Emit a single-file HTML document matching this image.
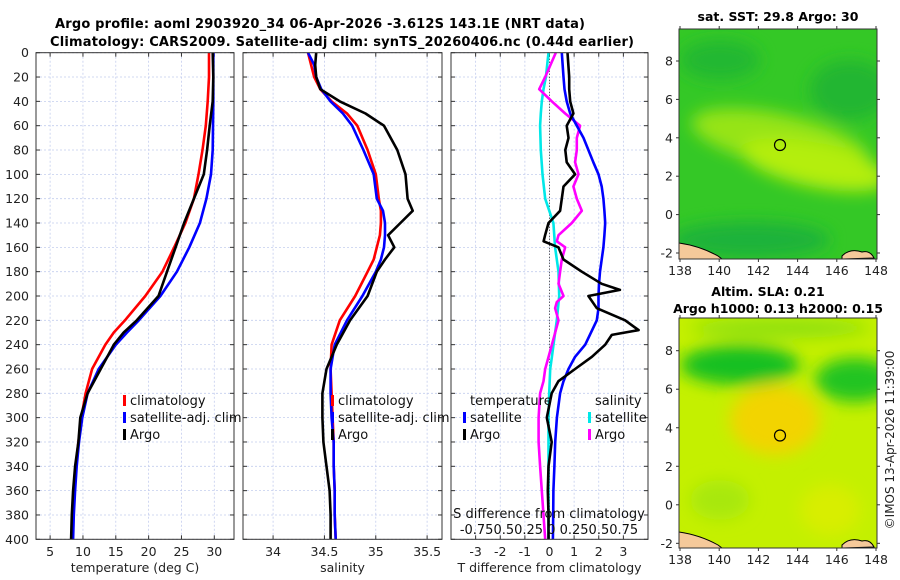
<!DOCTYPE html>
<html><head><meta charset="utf-8"><style>
html,body{margin:0;padding:0;background:#fff;}
svg{display:block;font-family:"DejaVu Sans","Liberation Sans",sans-serif;}
</style></head><body>
<svg id="fig" width="900" height="580" viewBox="0 0 900 580" xmlns="http://www.w3.org/2000/svg">
<defs>
<clipPath id="c1"><rect x="36" y="53" width="198" height="486"/></clipPath>
<clipPath id="c2"><rect x="243" y="53" width="199" height="486"/></clipPath>
<clipPath id="c3"><rect x="451" y="53" width="197" height="486"/></clipPath>
<clipPath id="m1"><rect x="679" y="29" width="198" height="230"/></clipPath>
<clipPath id="m2"><rect x="679" y="318" width="198" height="230"/></clipPath>
<filter id="bl" x="-50%" y="-50%" width="200%" height="200%"><feGaussianBlur stdDeviation="8"/></filter>
</defs>
<text x="320" y="28" font-size="13" font-weight="bold" text-anchor="middle" textLength="530">Argo profile: aoml 2903920_34 06-Apr-2026 -3.612S 143.1E (NRT data)</text>
<text x="342" y="46" font-size="13" font-weight="bold" text-anchor="middle" textLength="584">Climatology: CARS2009. Satellite-adj clim: synTS_20260406.nc (0.44d earlier)</text>

<g id="maps">
<g clip-path="url(#m1)">
<rect x="679" y="29" width="198" height="230" fill="#34c826"/>
<g filter="url(#bl)">
<ellipse cx="720" cy="60" rx="40" ry="20" fill="#24b830"/>
<ellipse cx="850" cy="90" rx="40" ry="30" fill="#22b632"/>
<ellipse cx="780" cy="140" rx="90" ry="26" fill="#96e412" transform="rotate(12 780 140)"/>
<ellipse cx="815" cy="165" rx="75" ry="22" fill="#b4ee08" transform="rotate(12 815 165)"/>
<ellipse cx="750" cy="240" rx="80" ry="18" fill="#1db23a"/>
</g>
<path d="M679 243 Q700 246 718 256 L722 259 L679 259 Z" fill="#f5c99a" stroke="#000" stroke-width="1"/>
<path d="M842 256 Q850 248 862 252 Q870 250 874 258 L842 259 Z" fill="#f5c99a" stroke="#000" stroke-width="1"/>
<circle cx="780" cy="145" r="5.5" fill="none" stroke="#000" stroke-width="1.2"/>
</g>
<rect x="679" y="29" width="198" height="230" fill="none" stroke="#333" stroke-width="1"/>
<g clip-path="url(#m2)">
<rect x="679" y="318" width="198" height="230" fill="#c4f000"/>
<g filter="url(#bl)">
<ellipse cx="740" cy="365" rx="60" ry="20" fill="#18c020"/>
<ellipse cx="855" cy="380" rx="40" ry="22" fill="#20c424"/>
<ellipse cx="775" cy="420" rx="45" ry="35" fill="#f2d400"/>
<ellipse cx="780" cy="328" rx="90" ry="10" fill="#8fe010"/>
<ellipse cx="720" cy="500" rx="30" ry="20" fill="#a8e808"/>
<ellipse cx="830" cy="510" rx="30" ry="25" fill="#d8ee00"/>
</g>
<path d="M679 532 Q700 535 718 545 L722 548 L679 548 Z" fill="#f5c99a" stroke="#000" stroke-width="1"/>
<path d="M842 545 Q850 537 862 541 Q870 539 874 547 L842 548 Z" fill="#f5c99a" stroke="#000" stroke-width="1"/>
<circle cx="780" cy="435.5" r="5.5" fill="none" stroke="#000" stroke-width="1.2"/>
</g>
<rect x="679" y="318" width="198" height="230" fill="none" stroke="#333" stroke-width="1"/>
<text x="778" y="21" font-size="12.5" font-weight="bold" text-anchor="middle">sat. SST: 29.8 Argo: 30</text>
<text x="768" y="296" font-size="12.5" font-weight="bold" text-anchor="middle">Altim. SLA: 0.21</text>
<text x="778" y="313" font-size="12.5" font-weight="bold" text-anchor="middle">Argo h1000: 0.13 h2000: 0.15</text>
<text transform="translate(894 440) rotate(-90)" font-size="12" text-anchor="middle" fill="#222">©IMOS 13-Apr-2026 11:39:00</text>
</g>
<g id="axes"></g>
</svg>
<script>
// ---- data (depth in dbar) ----
const tDepth = [0,20,40,60,80,100,120,140,160,180,200,220,230,240,260,280,300,320,340,360,380,400];
const tClim  = [29.2,29.2,29.0,28.7,28.2,27.6,26.9,25.6,23.9,22.1,19.5,16.4,14.7,13.4,11.4,10.4,9.75,9.3,8.9,8.6,8.4,8.3];
const tSat   = [29.85,29.85,29.85,29.8,29.75,29.5,28.8,27.8,26.2,24.3,21.8,18.5,16.7,15.0,12.4,10.7,9.9,9.4,9.05,8.8,8.6,8.5];
const tArgo  = [29.75,29.85,29.75,29.3,28.9,28.4,26.9,25.4,24.1,22.8,21.5,18.2,16.2,14.7,12.7,10.7,9.6,9.3,8.8,8.5,8.3,8.2];
const sDepth = [0,10,20,30,40,50,60,80,100,120,130,140,150,160,170,180,200,220,240,260,280,300,320,340,360,380,400];
const sClim  = [34.34,34.37,34.40,34.46,34.57,34.72,34.82,34.92,35.0,35.03,35.05,35.05,35.04,35.01,34.98,34.92,34.80,34.65,34.57,34.56,34.57,34.58,34.59,34.59,34.60,34.60,34.61];
const sSat   = [34.34,34.40,34.42,34.47,34.56,34.68,34.77,34.88,34.98,35.01,35.07,35.09,35.09,35.08,35.05,35.0,34.87,34.72,34.60,34.56,34.56,34.57,34.59,34.59,34.60,34.60,34.61];
const sArgo  = [34.42,34.41,34.42,34.46,34.65,34.90,35.08,35.21,35.29,35.31,35.36,35.24,35.12,35.18,35.09,35.01,34.92,34.75,34.62,34.52,34.48,34.48,34.49,34.52,34.55,34.56,34.56];
const dTDepthSat  = [0,20,30,40,50,60,70,80,90,100,110,120,130,140,150,160,170,180,190,200,210,220,240,250,260,270,280,300,320,340,360,380,400];
const dTSat       = [0.5,0.57,0.61,0.70,0.84,1.11,1.38,1.58,1.78,1.99,2.12,2.19,2.23,2.26,2.23,2.19,2.12,2.05,2.01,1.99,1.99,1.92,1.45,1.04,0.77,0.57,0.43,0.30,0.23,0.20,0.16,0.15,0.14];
const dTDepthArgo = [0,20,30,40,50,60,70,80,90,100,110,120,130,140,150,155,160,170,180,190,195,200,210,220,228,232,240,250,260,270,280,300,320,340,360,380,400];
const dTArgo      = [0.73,0.8,0.8,0.84,0.97,0.70,0.77,0.64,0.70,1.04,0.57,0.50,0.43,-0.04,-0.18,-0.24,0.36,0.57,1.31,2.12,2.86,1.58,1.92,3.07,3.62,2.53,2.26,1.72,1.04,0.36,0.09,-0.11,0.09,-0.04,-0.07,-0.04,-0.04];
const dSDepthSat  = [0,20,30,40,50,60,80,100,120,140,160,170,180,200,220,240,250,260,280,300,340,400];
const dSSat       = [-0.01,-0.037,-0.061,-0.078,-0.088,-0.095,-0.088,-0.071,-0.044,0.04,0.057,0.074,0.091,0.098,0.074,0.041,0.024,0.007,-0.003,-0.01,-0.01,-0.01];
const dSDepthArgo = [0,20,30,40,50,60,70,80,90,100,110,120,130,140,150,155,160,170,180,190,200,205,210,220,240,260,270,280,300,320,340,360,380,400];
const dSArgo      = [0.064,-0.044,-0.105,0.024,0.159,0.311,0.277,0.277,0.26,0.294,0.243,0.277,0.328,0.226,0.091,0.074,0.159,0.125,0.108,0.091,0.142,0.074,0.057,0.091,0.024,-0.044,-0.061,-0.095,-0.111,-0.111,-0.095,-0.078,-0.061,-0.044];
const depthTicks = [0,20,40,60,80,100,120,140,160,180,200,220,240,260,280,300,320,340,360,380,400];
const tTicks = [5,10,15,20,25,30];
const sTicks = [34,34.5,35,35.5];
const dTTicks = [-3,-2,-1,0,1,2,3];
const lonTicks = [138,140,142,144,146,148];
const latTicks = [8,6,4,2,0,-2];

const NS='http://www.w3.org/2000/svg';
const root=document.getElementById('axes');
function mk(tag,attrs,parent){const e=document.createElementNS(NS,tag);for(const k in attrs)e.setAttribute(k,attrs[k]);(parent||root).appendChild(e);return e;}
const Y0=52.7,Y1=539.3;
const y=d=>Y0+d/400*(Y1-Y0);
const lin=(d0,d1,r0,r1)=>v=>r0+(v-d0)/(d1-d0)*(r1-r0);
const panels=[
 {x:lin(2.85,33,36,234),x0:36,x1:234,ticks:tTicks,label:'temperature (deg C)',clip:'c1',name:'temperature-panel'},
 {x:lin(33.707,35.645,243,442),x0:243,x1:442,ticks:sTicks,label:'salinity',clip:'c2',name:'salinity-panel'},
 {x:lin(-4,4,451,648),x0:451,x1:648,ticks:dTTicks,label:'T difference from climatology',clip:'c3',name:'difference-panel'}
];
panels.forEach((p,i)=>{
 const g=mk('g',{});
 
 
 depthTicks.forEach(d=>{
  const l=mk('line',{x1:p.x0,x2:p.x1,y1:y(d),y2:y(d),stroke:'#c4cdee','stroke-width':0.8,'stroke-dasharray':'2,2'},g);
  
  
  mk('line',{x1:p.x0,x2:p.x0+4,y1:y(d),y2:y(d),stroke:'#333'},g);
  mk('line',{x1:p.x1-4,x2:p.x1,y1:y(d),y2:y(d),stroke:'#333'},g);
 });
 p.ticks.forEach(t=>{
  const X=p.x(t);
  mk('line',{x1:X,x2:X,y1:Y0,y2:Y1,stroke:'#c4cdee','stroke-width':0.8,'stroke-dasharray':'2,2'},g);
  mk('line',{x1:X,x2:X,y1:Y1-4,y2:Y1,stroke:'#333'},g);
  mk('line',{x1:X,x2:X,y1:Y0,y2:Y0+4,stroke:'#333'},g);
  const tx=mk('text',{x:X,y:556,'font-size':12.5,'text-anchor':'middle',fill:'#222'},g);
  tx.textContent=t;
  
  
 });
 const lab=mk('text',{x:(p.x0+p.x1)/2,y:572,'font-size':12.5,'text-anchor':'middle',fill:'#222'},g);
 lab.textContent=p.label;
 
 
 if(i===0){
  depthTicks.forEach(d=>{
   const tx=mk('text',{x:29,y:y(d)+4.5,'font-size':12.5,'text-anchor':'end',fill:'#222'},g);
   tx.textContent=d;
   
   
  });
 }
});
mk('line',{x1:panels[2].x(0),x2:panels[2].x(0),y1:Y0,y2:Y1,stroke:'#333','stroke-width':1,'stroke-dasharray':'1,2'});
function series(p,xs,ds,color,name,scale){
 const pts=xs.map((v,k)=>p.x(v*(scale||1)).toFixed(1)+','+y(ds[k]).toFixed(1)).join(' ');
 const l=mk('polyline',{points:pts,fill:'none',stroke:color,'stroke-width':2.6,'stroke-linejoin':'round','clip-path':'url(#'+p.clip+')'});
 
 
}
series(panels[0],tClim,tDepth,'#ff0000','temp-climatology-line');
series(panels[0],tSat,tDepth,'#0000ff','temp-satellite-line');
series(panels[0],tArgo,tDepth,'#000000','temp-argo-line');
series(panels[1],sClim,sDepth,'#ff0000','sal-climatology-line');
series(panels[1],sSat,sDepth,'#0000ff','sal-satellite-line');
series(panels[1],sArgo,sDepth,'#000000','sal-argo-line');
series(panels[2],dSSat,dSDepthSat,'#00e8e8','sdiff-satellite-line',4);
series(panels[2],dSArgo,dSDepthArgo,'#ff00ff','sdiff-argo-line',4);
series(panels[2],dTSat,dTDepthSat,'#0000ff','tdiff-satellite-line');
series(panels[2],dTArgo,dTDepthArgo,'#000000','tdiff-argo-line');
panels.forEach(p=>{
 const r=mk('rect',{x:p.x0,y:Y0,width:p.x1-p.x0,height:Y1-Y0,fill:'none',stroke:'#333','stroke-width':1});
 
 
});
function legend(x,yy,color,text,name){
 mk('rect',{x:x,y:yy-10,width:3,height:11,fill:color});
 const t=mk('text',{x:x+7,y:yy,'font-size':13,fill:'#111'});
 t.textContent=text;
 
 
}
[[123,'#ff0000','climatology'],[123,'#0000ff','satellite-adj. clim'],[123,'#000','Argo']].forEach((e,k)=>legend(e[0],405+k*17,e[1],e[2],'legend-entry'));
[[331,'#ff0000','climatology'],[331,'#0000ff','satellite-adj. clim'],[331,'#000','Argo']].forEach((e,k)=>legend(e[0],405+k*17,e[1],e[2],'legend-entry'));
const lt=mk('text',{x:470,y:405,'font-size':13,fill:'#111'});lt.textContent='temperature';


const ls=mk('text',{x:595,y:405,'font-size':13,fill:'#111'});ls.textContent='salinity';


legend(463,422,'#0000ff','satellite','legend-entry');
legend(463,439,'#000','Argo','legend-entry');
legend(588,422,'#00e8e8','satellite','legend-entry');
legend(588,439,'#ff00ff','Argo','legend-entry');
const s1=mk('text',{x:549,y:518,'font-size':13,'text-anchor':'middle',fill:'#111'});s1.textContent='S difference from climatology';


const s2=mk('text',{x:549,y:534,'font-size':13,'text-anchor':'middle',fill:'#111'});s2.textContent='-0.750.50.25 0 0.250.50.75';


const lonX=lin(138,148,680,876);
[{top:29,bot:259,lat:lin(0,8,214.6,61)},{top:318,bot:548,lat:lin(0,8,504.8,350.7)}].forEach(m=>{
 lonTicks.forEach(v=>{
  const X=lonX(v);
  mk('line',{x1:X,x2:X,y1:m.bot,y2:m.bot+3,stroke:'#333'});
  mk('line',{x1:X,x2:X,y1:m.top,y2:m.top-3,stroke:'#333'});
  const t=mk('text',{x:X,y:m.bot+16,'font-size':12.5,'text-anchor':'middle',fill:'#222'});t.textContent=v;
  
  
 });
 latTicks.forEach(v=>{
  const Yv=m.lat(v);
  mk('line',{x1:676,x2:679,y1:Yv,y2:Yv,stroke:'#333'});
  mk('line',{x1:877,x2:880,y1:Yv,y2:Yv,stroke:'#333'});
  const t=mk('text',{x:673,y:Yv+4.5,'font-size':12.5,'text-anchor':'end',fill:'#222'});t.textContent=v;
  
  
 });
});
</script>
</body></html>
